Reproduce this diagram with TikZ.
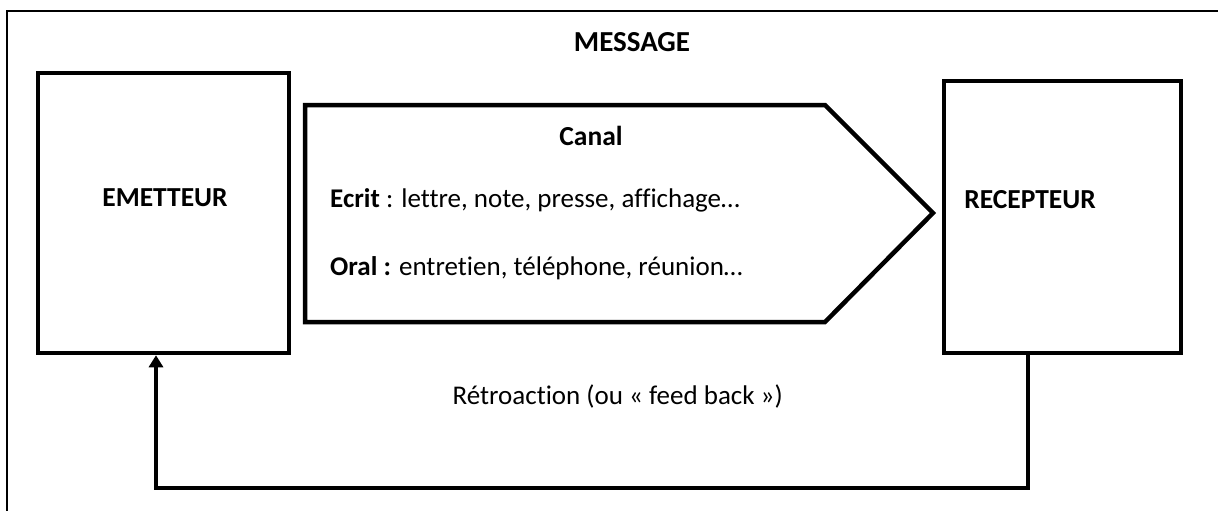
\documentclass[tikz,border=0pt]{standalone}
\usepackage{fontspec}
\setmainfont{Carlito}[RawFeature={-liga}]
\usetikzlibrary{arrows.meta}
\begin{document}
\begin{tikzpicture}[x=1pt,y=-1pt,
  frame/.style={draw=black,line width=2pt},
  thickbox/.style={draw=black,line width=4.5pt,line join=miter,inner sep=0pt},
  lbl/.style={font=\fontsize{27.5}{31}\selectfont\bfseries,inner sep=0pt},
  txt/.style={font=\fontsize{27}{31}\selectfont,inner sep=0pt},
  fb/.style={draw=black,line width=4pt,line join=miter}]
\useasboundingbox (0,0) rectangle (1218,511);
% outer frame (cut by the page edges)
\draw[frame] (7,530) -- (7,11) -- (1240,11);
\node[lbl,font=\fontsize{29}{33}\selectfont\bfseries] (msg) at (632,42) {MESSAGE};
% emetteur
\node[thickbox,minimum width=251pt,minimum height=280pt] (emt) at (163.5,213) {};
\node[lbl] (emtl) at (165,198) {EMETTEUR};
% recepteur
\node[thickbox,minimum width=237pt,minimum height=272pt] (rec) at (1062.5,217) {};
\node[lbl] (recl) at (1030,200) {RECEPTEUR};
% canal pentagon
\coordinate (p1) at (305,105);
\coordinate (p2) at (825,105);
\coordinate (p3) at (933,213);
\coordinate (p4) at (825,322);
\coordinate (p5) at (305,322);
\draw[line width=4.5pt,line join=miter] (p1) -- (p2) -- (p3) -- (p4) -- (p5) -- cycle;
\node[lbl] (canal) at (591,136) {Canal};
\node[txt,anchor=west] (ecrit) at (330,200) {\textbf{Ecrit} : lettre, note, presse, affichage…};
\node[txt,anchor=west] (oral) at (330,268) {\textbf{Oral :} entretien, téléphone, réunion…};
% feedback
\coordinate (fbR) at (1028,488);
\coordinate (fbL) at (156,488);
\draw[fb,-{Triangle[length=12pt,width=14pt]}] (rec.south -| fbR) -- (fbR) -- (fbL) -- (emt.south -| fbL);
\node[txt,anchor=east] (retro) at (783,396) {Rétroaction (ou « feed back »)};
\end{tikzpicture}
\end{document}
